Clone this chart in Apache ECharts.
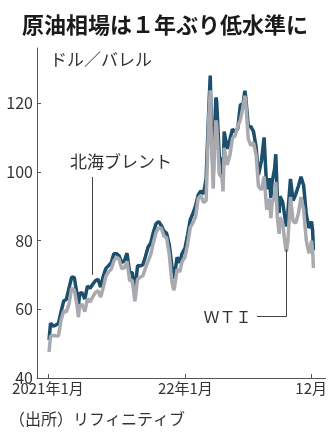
<!DOCTYPE html>
<html>
<head>
<meta charset="utf-8">
<script src="https://cdn.jsdelivr.net/npm/echarts@6.0.0/dist/echarts.min.js"></script>
<style>
html, body { margin: 0; padding: 0; background: #ffffff; }
#chart { width: 330px; height: 432px; }
</style>
</head>
<body>
<div id="chart"></div>
<script>
// weekly closes, 2021-01 .. 2022-12
let dates = [
  '2021-01-04', '2021-01-08', '2021-01-15', '2021-01-22', '2021-01-29',
  '2021-02-05', '2021-02-12', '2021-02-19', '2021-02-26',
  '2021-03-05', '2021-03-12', '2021-03-19', '2021-03-23', '2021-03-26',
  '2021-04-01', '2021-04-09', '2021-04-16', '2021-04-23', '2021-04-30',
  '2021-05-07', '2021-05-14', '2021-05-21', '2021-05-28',
  '2021-06-04', '2021-06-11', '2021-06-18', '2021-06-25',
  '2021-07-02', '2021-07-09', '2021-07-16', '2021-07-23', '2021-07-30',
  '2021-08-06', '2021-08-13', '2021-08-20', '2021-08-27',
  '2021-09-03', '2021-09-10', '2021-09-17', '2021-09-24',
  '2021-10-01', '2021-10-08', '2021-10-15', '2021-10-22', '2021-10-29',
  '2021-11-05', '2021-11-12', '2021-11-19', '2021-11-26',
  '2021-12-01', '2021-12-03', '2021-12-10', '2021-12-17', '2021-12-23', '2021-12-31',
  '2022-01-07', '2022-01-14', '2022-01-21', '2022-01-28',
  '2022-02-04', '2022-02-11', '2022-02-18', '2022-02-25',
  '2022-03-04', '2022-03-08', '2022-03-11', '2022-03-16', '2022-03-18', '2022-03-23', '2022-03-25',
  '2022-04-01', '2022-04-08', '2022-04-11', '2022-04-14', '2022-04-22', '2022-04-29',
  '2022-05-06', '2022-05-13', '2022-05-20', '2022-05-27',
  '2022-06-03', '2022-06-08', '2022-06-10', '2022-06-17', '2022-06-24',
  '2022-07-01', '2022-07-08', '2022-07-14', '2022-07-22', '2022-07-29',
  '2022-08-05', '2022-08-12', '2022-08-16', '2022-08-19', '2022-08-26', '2022-08-29',
  '2022-09-02', '2022-09-07', '2022-09-09', '2022-09-16', '2022-09-23', '2022-09-26', '2022-09-30',
  '2022-10-07', '2022-10-14', '2022-10-21', '2022-10-28',
  '2022-11-04', '2022-11-11', '2022-11-18', '2022-11-25', '2022-11-28',
  '2022-12-02', '2022-12-05', '2022-12-07'
]
let brent = [
  51.09, 55.99, 55.10, 55.41, 55.88,
  59.34, 62.43, 62.91, 66.13,
  69.36, 69.22, 64.53, 60.79, 64.57,
  64.86, 62.95, 66.77, 66.11, 67.25,
  68.28, 68.71, 66.44, 69.63,
  71.89, 72.69, 73.51, 76.18,
  76.17, 75.55, 73.59, 74.10, 76.33,
  70.70, 70.59, 65.18, 72.70,
  72.61, 72.92, 75.34, 78.09,
  79.28, 82.39, 84.86, 85.53, 84.38,
  82.74, 82.17, 78.89, 72.72,
  68.87, 69.88, 75.15, 73.52, 76.14, 77.78,
  81.75, 86.06, 87.89, 90.03,
  93.27, 94.44, 93.54, 97.93,
  118.11, 127.98, 112.67, 98.02, 107.93, 121.60, 120.65,
  104.39, 102.78, 98.48, 111.70, 106.65, 109.34,
  112.39, 111.55, 112.55, 119.43,
  119.72, 123.58, 122.01, 113.12, 113.12,
  111.63, 107.02, 99.10, 103.20, 110.01,
  94.92, 98.15, 92.34, 96.72, 100.99, 105.09,
  93.02, 88.00, 92.84, 91.35, 86.15, 84.06, 87.96,
  97.92, 91.63, 93.50, 95.77,
  98.57, 95.99, 87.62, 83.63, 83.19,
  85.57, 82.68, 77.17
]
let wti = [
  47.62, 52.24, 52.36, 52.27, 52.20,
  56.85, 59.47, 59.24, 61.50,
  66.09, 65.61, 61.42, 57.76, 60.97,
  61.45, 59.32, 63.13, 62.14, 63.58,
  64.90, 65.37, 63.58, 66.32,
  69.62, 70.91, 71.64, 74.05,
  75.16, 74.56, 71.81, 72.07, 73.95,
  68.28, 68.44, 62.32, 68.74,
  69.29, 69.72, 71.97, 73.98,
  75.88, 79.35, 82.28, 83.76, 83.57,
  81.27, 80.79, 76.10, 68.15,
  65.57, 66.26, 71.67, 70.86, 73.79, 75.21,
  78.90, 83.82, 85.14, 86.82,
  92.31, 93.10, 91.07, 91.59,
  115.68, 123.70, 109.33, 95.04, 104.70, 114.93, 113.90,
  99.27, 98.26, 94.29, 106.95, 102.07, 104.69,
  109.77, 110.49, 113.23, 115.07,
  118.87, 122.11, 120.67, 109.56, 107.62,
  108.43, 104.79, 95.78, 94.70, 98.62,
  89.01, 92.09, 86.53, 90.77, 93.06, 97.01,
  86.87, 81.94, 86.79, 85.11, 78.74, 76.71, 79.49,
  92.64, 85.61, 85.05, 87.90,
  92.61, 88.96, 80.08, 76.28, 77.24,
  79.98, 76.93, 72.01
]
let xTickDates = ['2021-01-01', '2022-01-01', '2022-12-01']
let xTickLabels = ['2021年1月', '22年1月', '12月']
let yTicks = [40, 60, 80, 100, 120]

function ts (s) {
  let p = s.split('-')
  return Date.UTC(+p[0], +p[1] - 1, +p[2])
}

let xTicks = xTickDates.map(ts)
let font = "'Noto Sans CJK JP', sans-serif"

let chart = echarts.init(document.getElementById('chart'))
chart.setOption({
  animation: false,
  textStyle: { fontFamily: font },
  title: {
    text: '原油相場は１年ぶり低水準に',
    left: 'center',
    top: 9,
    textStyle: { fontSize: 22, fontWeight: 'bold', color: '#1a1a1a', fontFamily: font }
  },
  graphic: [
    { type: 'text', left: 50, top: 51, style: { text: 'ドル／バレル', fontSize: 17, fill: '#333', fontFamily: font } },
    { type: 'text', left: 9, top: 411, style: { text: '（出所）リフィニティブ', fontSize: 16, fill: '#333', fontFamily: font } }
  ],
  grid: { left: 37, right: 4, top: 48, bottom: 54 },
  xAxis: {
    type: 'value',
    min: ts('2020-12-03'),
    max: ts('2023-01-08'),
    splitLine: { show: false },
    axisLine: { lineStyle: { color: '#555', width: 1 } },
    axisTick: { customValues: xTicks, inside: true, length: 4, lineStyle: { color: '#555' } },
    axisLabel: {
      customValues: xTicks,
      color: '#333',
      fontSize: 15,
      margin: 3,
      formatter: function (v) {
        let i = xTicks.indexOf(v)
        return i >= 0 ? xTickLabels[i] : ''
      }
    }
  },
  yAxis: {
    type: 'value',
    min: 40,
    max: 136,
    splitLine: { show: false },
    axisLine: { show: true, lineStyle: { color: '#555', width: 1 } },
    axisTick: { show: true, customValues: yTicks, inside: true, length: 4, lineStyle: { color: '#555' } },
    axisLabel: { customValues: yTicks, color: '#333', fontSize: 16, margin: 4 }
  },
  series: [
    {
      name: '北海ブレント',
      type: 'line',
      showSymbol: false,
      data: dates.map((d, i) => [ts(d), brent[i]]),
      lineStyle: { color: '#1c4f6e', width: 3.5 },
      itemStyle: { color: '#1c4f6e' },
      z: 2,
      markLine: {
        silent: true,
        symbol: ['none', 'none'],
        label: { show: false },
        lineStyle: { color: '#444', width: 1, type: 'solid' },
        data: [[{ coord: [ts('2021-04-30'), 98.5] }, { coord: [ts('2021-04-30'), 70] }]]
      },
      markPoint: {
        silent: true,
        symbol: 'rect',
        symbolSize: 1,
        itemStyle: { color: 'transparent' },
        label: { show: true, position: 'inside', formatter: '{b}', color: '#333', fontSize: 17 },
        data: [{ name: '北海ブレント', coord: [ts('2021-07-14'), 103.1] }]
      }
    },
    {
      name: 'ＷＴＩ',
      type: 'line',
      showSymbol: false,
      data: dates.map((d, i) => [ts(d), wti[i]]),
      lineStyle: { color: '#a9a9b0', width: 3.5 },
      itemStyle: { color: '#a9a9b0' },
      z: 3,
      markLine: {
        silent: true,
        symbol: ['none', 'none'],
        label: { show: false },
        lineStyle: { color: '#444', width: 1, type: 'solid' },
        data: [
          [{ coord: [ts('2022-07-10'), 58] }, { coord: [ts('2022-09-27'), 58] }],
          [{ coord: [ts('2022-09-27'), 58] }, { coord: [ts('2022-09-27'), 77.5] }]
        ]
      },
      markPoint: {
        silent: true,
        symbol: 'rect',
        symbolSize: 1,
        itemStyle: { color: 'transparent' },
        label: { show: true, position: 'inside', formatter: '{b}', color: '#333', fontSize: 16 },
        data: [{ name: 'ＷＴＩ', coord: [ts('2022-04-23'), 57.7] }]
      }
    }
  ]
})
</script>
</body>
</html>
